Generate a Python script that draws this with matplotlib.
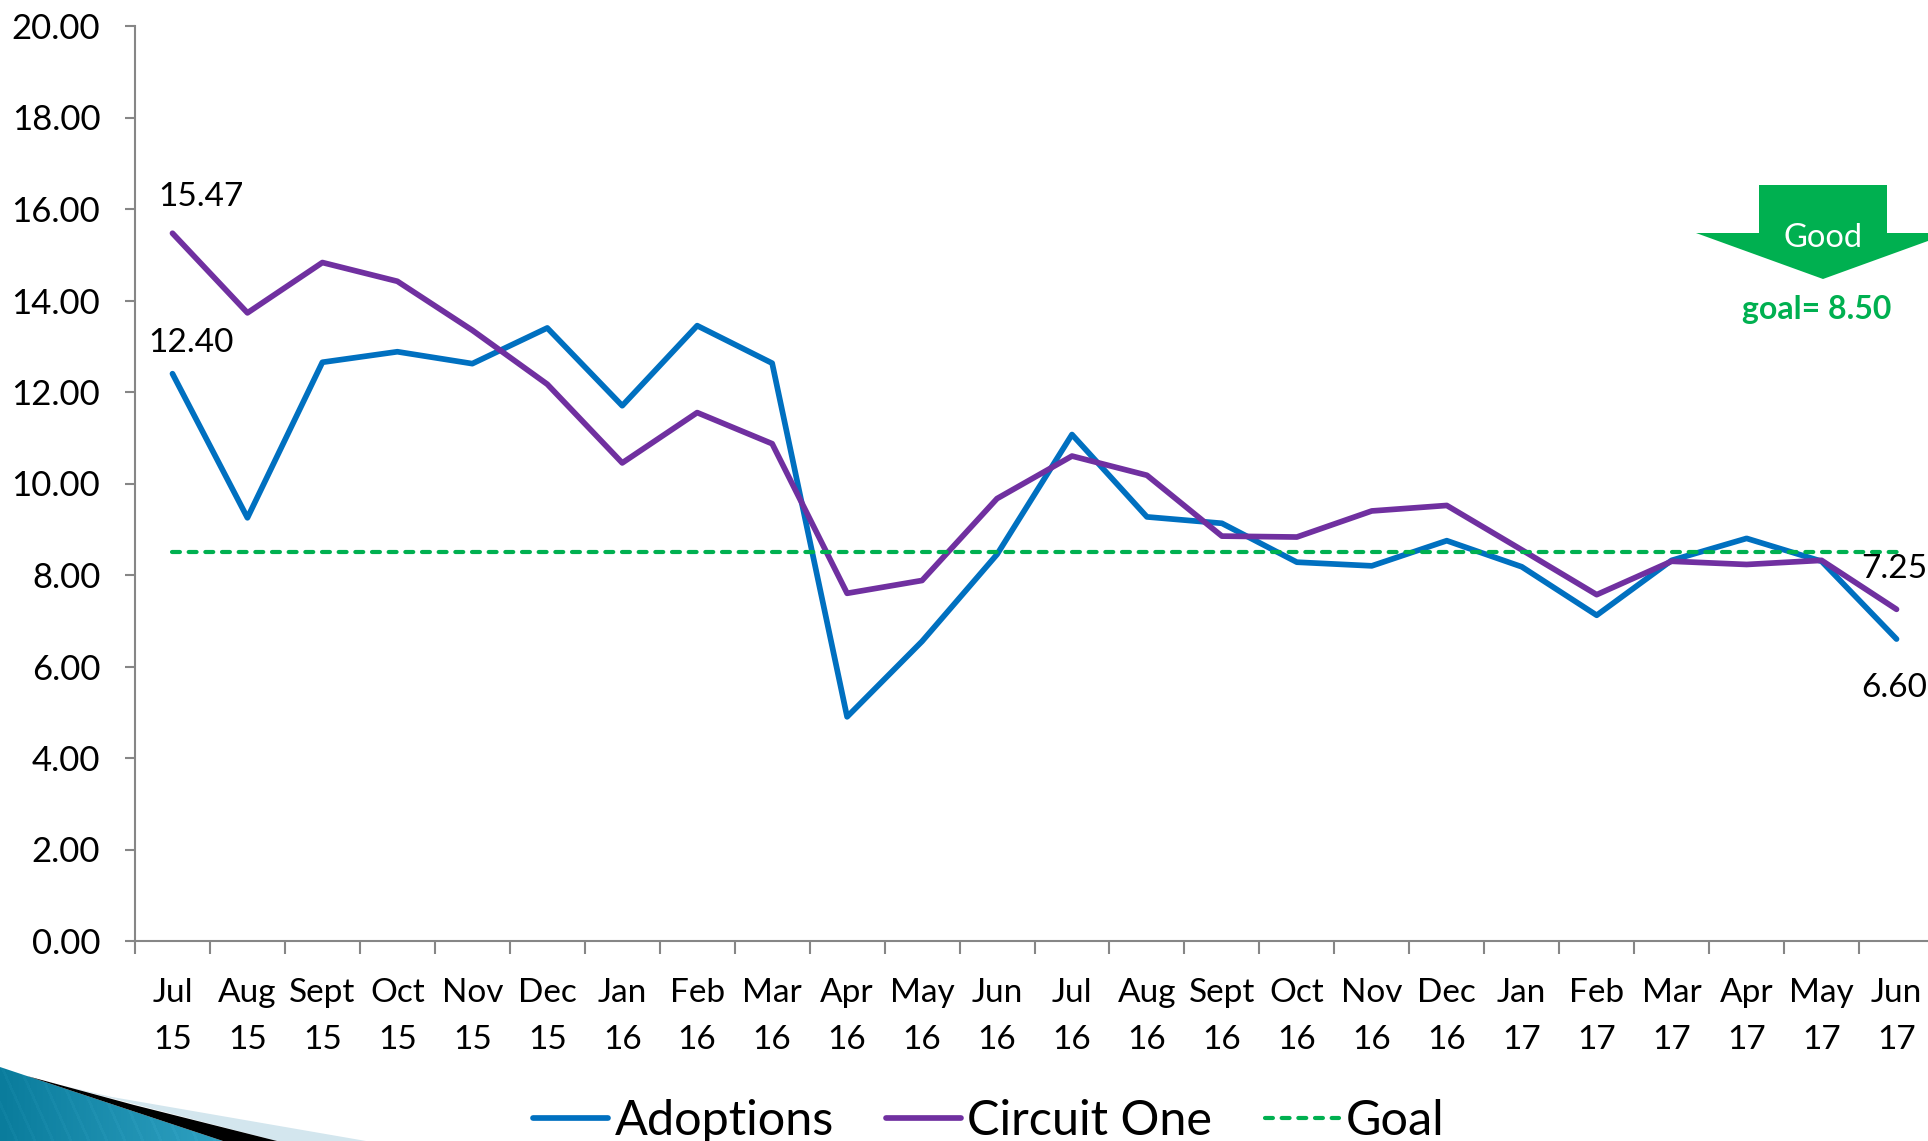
"""Adoptions vs Circuit One monthly line chart."""

import numpy as np
import matplotlib
matplotlib.use('Agg')
import matplotlib.pyplot as plt
from matplotlib.colors import LinearSegmentedColormap
from matplotlib.patches import Polygon

plt.rcParams['font.family'] = ['Lato', 'DejaVu Sans']

months = ['Jul', 'Aug', 'Sept', 'Oct', 'Nov', 'Dec', 'Jan', 'Feb', 'Mar', 'Apr', 'May', 'Jun',
          'Jul', 'Aug', 'Sept', 'Oct', 'Nov', 'Dec', 'Jan', 'Feb', 'Mar', 'Apr', 'May', 'Jun']
years = ['15', '15', '15', '15', '15', '15', '16', '16', '16', '16', '16', '16',
         '16', '16', '16', '16', '16', '16', '17', '17', '17', '17', '17', '17']
adoptions = [12.40, 9.25, 12.65, 12.88, 12.62, 13.40, 11.70, 13.45, 12.63, 4.90, 6.55, 8.45,
             11.07, 9.27, 9.13, 8.28, 8.20, 8.75, 8.18, 7.12, 8.32, 8.80, 8.30, 6.60]
circuit_one = [15.47, 13.73, 14.83, 14.42, 13.35, 12.17, 10.45, 11.55, 10.87, 7.60, 7.88, 9.67,
               10.60, 10.18, 8.85, 8.83, 9.40, 9.52, 8.55, 7.57, 8.30, 8.23, 8.32, 7.25]
goal = [8.50] * 24
y_ticks = [0, 2, 4, 6, 8, 10, 12, 14, 16, 18, 20]

W, H = 1928, 1141
BLUE = '#0070C0'
PURPLE = '#7030A0'
GREEN = '#00B050'
GREY = '#868686'

fig = plt.figure(figsize=(W / 100, H / 100), dpi=100)

# Plot area runs a little past the right edge of the slide
left, right, top, bottom = 135, 1934, 26, 941
ax = fig.add_axes([left / W, 1 - bottom / H, (right - left) / W, (bottom - top) / H])

x = np.arange(24) + 0.5
line_style = dict(lw=4.1, solid_joinstyle='round', solid_capstyle='round')
ax.plot(x, adoptions, color=BLUE, label='Adoptions', **line_style)
ax.plot(x, circuit_one, color=PURPLE, label='Circuit One', **line_style)
ax.plot(x, goal, color=GREEN, lw=3.0, dashes=(1.9, 2.1), dash_capstyle='round', label='Goal')

ax.set_xlim(0, 24)
ax.set_ylim(0, 20)
ax.spines['top'].set_visible(False)
ax.spines['right'].set_visible(False)
for side in ('left', 'bottom'):
    ax.spines[side].set_color(GREY)
    ax.spines[side].set_linewidth(1.5)

ax.set_yticks(y_ticks)
ax.set_yticklabels([f'{v:.2f}' for v in y_ticks])
ax.tick_params(axis='y', length=7, width=1.5, color=GREY, labelsize=25, pad=18)
ax.set_xticks(np.arange(25))
ax.set_xticklabels([])
ax.tick_params(axis='x', which='major', length=9, width=1.5, color=GREY)
ax.set_xticks(x, minor=True)
ax.set_xticklabels([f'{m}\n{y}' for m, y in zip(months, years)], minor=True, linespacing=1.7)
ax.tick_params(axis='x', which='minor', length=0, labelsize=24, pad=27)

# Data labels on the first and last points
offsets = [(circuit_one, 0, (29, 36), 'center'), (adoptions, 0, (19, 31), 'center'),
           (circuit_one, 23, (-35, 40), 'left'), (adoptions, 23, (-35, -49), 'left')]
for series, i, off, ha in offsets:
    ax.annotate(f'{series[i]:.2f}', (x[i], series[i]), xytext=off, textcoords='offset pixels',
                ha=ha, va='center', fontsize=24, annotation_clip=False)

fig.legend(loc='center', bbox_to_anchor=(989 / W, 1 - 1121 / H), ncol=3, frameon=False,
           fontsize=35, handlelength=1.53, handletextpad=0.14, columnspacing=1.08,
           borderpad=0, borderaxespad=0)

# Slide furniture and the Good arrow, in pixel coordinates
over = fig.add_axes([0, 0, 1, 1], facecolor='none')
over.axis('off')

over.add_patch(Polygon([(1759, 185), (1887, 185), (1887, 233), (1950, 233), (1823, 279),
                        (1696, 233), (1759, 233)], closed=True, facecolor=GREEN, edgecolor='none'))
over.text(1823, 238, 'Good', color='white', fontsize=23.5, ha='center', va='center')
over.text(1817, 309, 'goal= 8.50', color=GREEN, fontsize=23, fontweight='bold', ha='center', va='center')

over.add_patch(Polygon([(112, 1097), (366, 1141), (277, 1141), (60, 1085)], closed=True,
                       facecolor='#D3E6EE', edgecolor='none'))
over.add_patch(Polygon([(27, 1076), (134, 1105), (277, 1141), (223, 1141)], closed=True,
                       facecolor='black', edgecolor='none'))

# Teal wedge with its faint slanted stripes
xx, yy = np.meshgrid(np.arange(240), np.arange(74))
shade = xx / 240 * 0.9 + 0.1 * (((xx - 0.45 * yy) % 18) < 3)
teal_cmap = LinearSegmentedColormap.from_list('teal', ['#0A7C9C', '#36A8C9'])
teal = over.imshow(shade, extent=(0, 240, 1141, 1067), cmap=teal_cmap, aspect='auto')
teal.set_clip_path(Polygon([(0, 1067), (27, 1076), (223, 1141), (0, 1141)], closed=True,
                           transform=over.transData))
over.set_xlim(0, W)
over.set_ylim(H, 0)

fig.savefig('out.png', dpi=100)
